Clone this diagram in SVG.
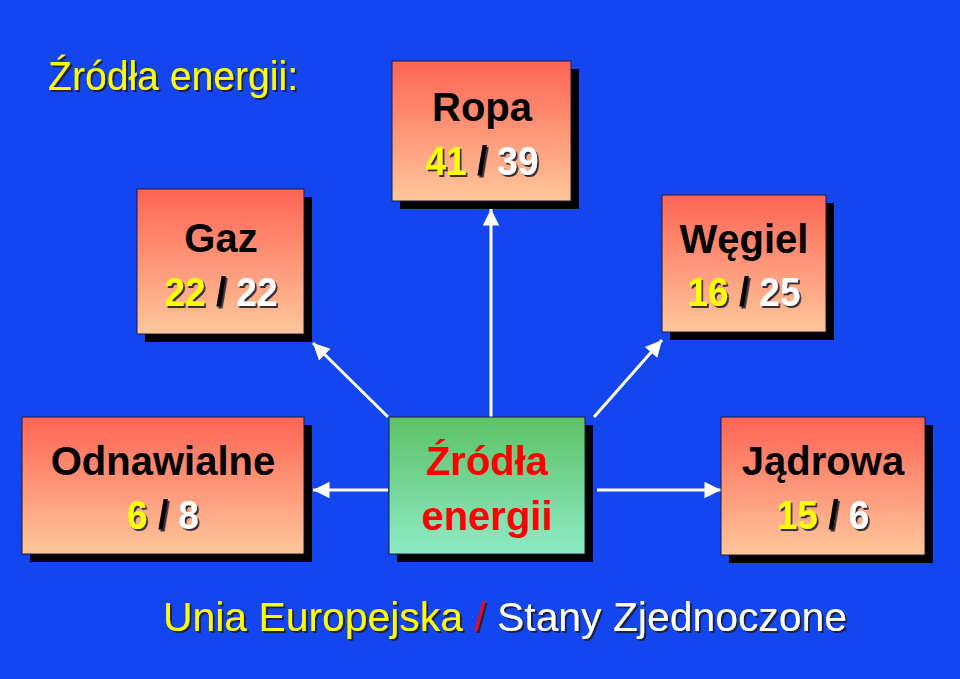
<svg xmlns="http://www.w3.org/2000/svg" width="960" height="679" viewBox="0 0 960 679">
<defs>
<linearGradient id="gRed" x1="0" y1="0" x2="0" y2="1">
<stop offset="0" stop-color="#FF6455"/>
<stop offset="1" stop-color="#FFC79B"/>
</linearGradient>
<linearGradient id="gGreen" x1="0" y1="0" x2="0" y2="1">
<stop offset="0" stop-color="#5CC266"/>
<stop offset="1" stop-color="#8FEAC4"/>
</linearGradient>
<filter id="ds" x="-10%" y="-20%" width="130%" height="150%">
<feDropShadow dx="2" dy="2" stdDeviation="0.4" flood-color="#1a1a33" flood-opacity="0.9"/>
</filter>
<marker id="ah" viewBox="0 0 10 10" refX="10" refY="5" markerWidth="6" markerHeight="5.5" markerUnits="strokeWidth" orient="auto">
<path d="M0,0 L10,5 L0,10 z" fill="#FFFFFF"/>
</marker>
</defs>
<style>
.shadow{fill:#000000}
.box{stroke:#1a1a40;stroke-width:1}
.lbl{font-family:"Liberation Sans",Arial,sans-serif;font-weight:bold;font-size:40px;fill:#000000;text-anchor:middle}
.num{font-family:"Liberation Sans",Arial,sans-serif;font-weight:bold;font-size:41px;text-anchor:middle;filter:url(#ds)}
.y{fill:#FFFF00}
.w{fill:#FFFFFF}
.k{fill:#000000}
.red{fill:#FF0000}
.conn line{stroke:#FFFFFF;stroke-width:3;marker-end:url(#ah)}
.big{font-family:"Liberation Sans",Arial,sans-serif;font-size:40px;filter:url(#ds)}
</style>
<rect width="960" height="679" fill="#1446F0"/>

<g id="title">
<text x="48" y="90" class="big" fill="#FFFF00" textLength="250" lengthAdjust="spacingAndGlyphs">Źródła energii:</text>
</g>

<g class="conn" id="connectors">
<line x1="491" y1="418" x2="491" y2="209"/>
<line x1="388" y1="417" x2="313" y2="343"/>
<line x1="594" y1="417" x2="662" y2="340"/>
<line x1="388" y1="490" x2="313" y2="490"/>
<line x1="597" y1="490" x2="721" y2="490"/>
</g>

<g id="gaz">
<rect x="145" y="197" width="167" height="145" class="shadow"/>
<rect x="137" y="189" width="167" height="145" fill="url(#gRed)" class="box"/>
<text x="221" y="252" class="lbl">Gaz</text>
<g transform="translate(221,0) scale(0.9,1)">
<text x="0" y="306" class="num"><tspan class="y">22</tspan><tspan class="k"> / </tspan><tspan class="w">22</tspan></text>
</g>
</g>

<g id="ropa">
<rect x="400" y="69" width="179" height="140" class="shadow"/>
<rect x="392" y="61" width="179" height="140" fill="url(#gRed)" class="box"/>
<text x="482" y="121" class="lbl">Ropa</text>
<g transform="translate(482,0) scale(0.9,1)">
<text x="0" y="175" class="num"><tspan class="y">41</tspan><tspan class="k"> / </tspan><tspan class="w">39</tspan></text>
</g>
</g>

<g id="wegiel">
<rect x="670" y="203" width="164" height="137" class="shadow"/>
<rect x="662" y="195" width="164" height="137" fill="url(#gRed)" class="box"/>
<text x="744" y="253" class="lbl">Węgiel</text>
<g transform="translate(744,0) scale(0.9,1)">
<text x="0" y="306" class="num"><tspan class="y">16</tspan><tspan class="k"> / </tspan><tspan class="w">25</tspan></text>
</g>
</g>

<g id="odnawialne">
<rect x="30" y="425" width="282" height="137" class="shadow"/>
<rect x="22" y="417" width="282" height="137" fill="url(#gRed)" class="box"/>
<text x="163" y="475" class="lbl">Odnawialne</text>
<g transform="translate(163,0) scale(0.9,1)">
<text x="0" y="529" class="num"><tspan class="y">6</tspan><tspan class="k"> / </tspan><tspan class="w">8</tspan></text>
</g>
</g>

<g id="zrodla">
<rect x="397" y="425" width="196" height="137" class="shadow"/>
<rect x="389" y="417" width="196" height="137" fill="url(#gGreen)" class="box"/>
<text x="487" y="475" class="lbl red">Źródła</text>
<text x="487" y="530" class="lbl red">energii</text>
</g>

<g id="jadrowa">
<rect x="729" y="425" width="204" height="138" class="shadow"/>
<rect x="721" y="417" width="204" height="138" fill="url(#gRed)" class="box"/>
<text x="823" y="475" class="lbl">Jądrowa</text>
<g transform="translate(823,0) scale(0.9,1)">
<text x="0" y="529" class="num"><tspan class="y">15</tspan><tspan class="k"> / </tspan><tspan class="w">6</tspan></text>
</g>
</g>

<g id="legend">
<text x="163" y="631" class="big" textLength="684" lengthAdjust="spacingAndGlyphs"><tspan fill="#FFFF00">Unia Europejska </tspan><tspan fill="#E0102A">/</tspan><tspan fill="#FFFFFF"> Stany Zjednoczone</tspan></text>
</g>
</svg>
